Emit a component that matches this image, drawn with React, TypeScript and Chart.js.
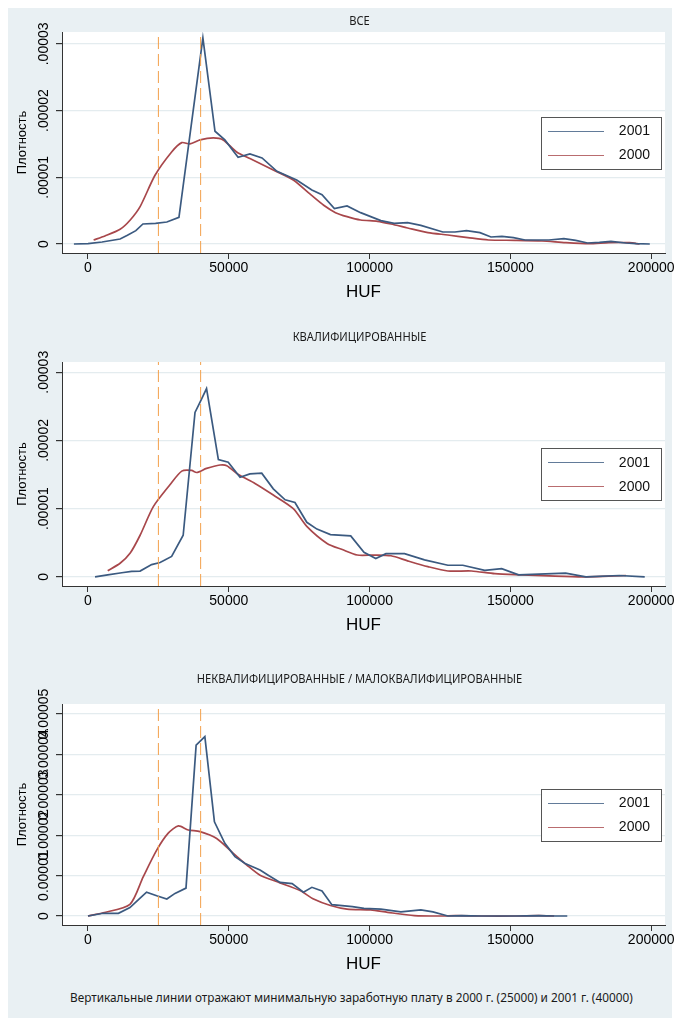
import React, { useEffect, useRef } from "react";
import { Chart, registerables } from "chart.js";

Chart.register(...registerables);

// ---------------- data ----------------
const MIN_WAGES = [25000, 40000];
const X_TICKS = [0, 50000, 100000, 150000, 200000];
const X_LABELS = ["0", "50000", "100000", "150000", "200000"];
const X_TITLE = "HUF";
const Y_TITLE = "Плотность";
const SERIES_LABELS = ["2001", "2000"];
const PANEL_TITLES = [
  "ВСЕ",
  "КВАЛИФИЦИРОВАННЫЕ",
  "НЕКВАЛИФИЦИРОВАННЫЕ / МАЛОКВАЛИФИЦИРОВАННЫЕ",
];
const CAPTION =
  "Вертикальные линии отражают минимальную заработную плату в 2000 г. (25000) и 2001 г. (40000)";

const DENSITY_UNIT = 0.00001; // densities below are in units of 1e-5
const Y_TICKS_SHORT = [0, 0.00001, 0.00002, 0.00003];
const Y_LABELS_SHORT = ["0", ".00001", ".00002", ".00003"];
const Y_TICKS_LONG = [0, 0.00001, 0.00002, 0.00003, 0.00004, 0.00005];
const Y_LABELS_LONG = ["0", "0.00001", "0.00002", "0.00003", "0.00004", "0.00005"];

// Panel 1: all workers
const ALL_HUF_2001 = [-5000, 0, 5000, 11400, 14000, 17000, 19500, 24000, 28000, 32300, 40800, 45100, 48600, 53300, 57500, 61800, 67100, 74100, 79500, 83100, 87500, 92000, 96800, 104000, 108700, 113500, 118200, 126000, 130300, 134400, 139200, 143100, 147000, 151100, 155200, 163700, 169000, 173200, 177400, 181600, 185700, 191000, 194600, 199500];
const ALL_DENS_2001 = [0, 0.005, 0.03, 0.075, 0.13, 0.2, 0.3, 0.31, 0.33, 0.4, 3.09, 1.69, 1.56, 1.3, 1.35, 1.29, 1.09, 0.96, 0.81, 0.74, 0.53, 0.57, 0.47, 0.35, 0.31, 0.32, 0.28, 0.18, 0.18, 0.2, 0.17, 0.105, 0.115, 0.096, 0.06, 0.06, 0.08, 0.055, 0.015, 0.025, 0.04, 0.015, 0.005, 0];
const ALL_HUF_2000 = [2000, 6000, 11400, 15000, 18500, 23800, 29700, 33300, 36200, 39800, 44500, 48000, 52800, 57500, 65800, 72900, 78800, 83700, 87900, 92000, 96800, 102800, 107600, 113500, 120700, 127800, 134900, 142200, 151700, 161200, 169600, 177900, 185000, 192300, 195900];
const ALL_DENS_2000 = [0.06, 0.12, 0.22, 0.36, 0.56, 1.03, 1.38, 1.52, 1.5, 1.56, 1.59, 1.56, 1.38, 1.28, 1.11, 0.96, 0.75, 0.58, 0.47, 0.41, 0.36, 0.34, 0.3, 0.24, 0.17, 0.135, 0.096, 0.06, 0.055, 0.045, 0.02, 0.005, 0.02, 0.02, 0];

// Panel 2: skilled
const SKL_HUF_2001 = [2500, 7000, 12000, 15500, 18500, 22600, 25600, 29700, 33800, 38000, 39800, 42100, 46300, 49800, 54000, 57500, 61700, 65800, 70000, 73500, 77700, 81300, 86100, 93300, 98000, 102200, 105800, 112400, 119500, 127800, 133100, 140900, 146900, 152900, 162500, 169600, 176800, 188700, 197700];
const SKL_DENS_2001 = [0, 0.03, 0.06, 0.08, 0.085, 0.18, 0.21, 0.3, 0.61, 2.41, 2.56, 2.76, 1.72, 1.68, 1.46, 1.51, 1.52, 1.29, 1.13, 1.09, 0.8, 0.7, 0.62, 0.6, 0.36, 0.27, 0.34, 0.34, 0.25, 0.17, 0.17, 0.095, 0.12, 0.03, 0.045, 0.055, 0, 0.02, 0];
const SKL_HUF_2000 = [7000, 11400, 15000, 18500, 23200, 29100, 33300, 36800, 38600, 42100, 46900, 49300, 53400, 59300, 65800, 72900, 77700, 84900, 90300, 95600, 101600, 107600, 113500, 120700, 127800, 136200, 144500, 154100, 163700, 175600, 182800, 191000];
const SKL_DENS_2000 = [0.09, 0.2, 0.35, 0.61, 1.03, 1.35, 1.55, 1.56, 1.53, 1.59, 1.64, 1.63, 1.5, 1.37, 1.2, 1.0, 0.74, 0.49, 0.4, 0.32, 0.32, 0.31, 0.235, 0.15, 0.086, 0.086, 0.046, 0.03, 0.015, 0, 0.006, 0.02];

// Panel 3: unskilled / low-skilled
const UNS_HUF_2001 = [0, 5400, 10800, 14900, 18500, 20800, 24400, 28000, 30900, 34800, 38400, 41500, 44900, 48600, 52200, 55800, 61100, 64000, 68200, 72500, 76500, 79500, 83100, 86600, 93900, 98000, 104000, 111100, 118200, 122500, 127800, 132600, 139800, 151700, 160100, 166000, 170200];
const UNS_DENS_2001 = [0, 0.067, 0.067, 0.21, 0.44, 0.59, 0.5, 0.42, 0.56, 0.69, 4.23, 4.44, 2.33, 1.8, 1.47, 1.3, 1.14, 1.01, 0.83, 0.8, 0.59, 0.71, 0.62, 0.28, 0.23, 0.19, 0.17, 0.1, 0.15, 0.1, 0, 0.01, 0, 0, 0.01, 0, 0];
const UNS_HUF_2000 = [0, 5400, 14900, 19600, 24400, 28500, 32100, 35600, 39800, 45700, 51600, 56400, 61100, 68200, 75300, 80100, 86100, 92000, 100400, 106400, 115900, 125500, 130300, 139800, 151700, 160100, 165500];
const UNS_DENS_2000 = [0, 0.08, 0.29, 0.97, 1.63, 2.05, 2.23, 2.13, 2.09, 1.92, 1.55, 1.26, 1.01, 0.82, 0.63, 0.42, 0.26, 0.17, 0.15, 0.09, 0.01, 0, 0.01, 0, 0, 0.01, 0];

// ---------------- styling / layout ----------------
const BG = "#e9f0f3";
const BLUE = "#3b5a80";
const RED = "#a8474b";
const ORANGE = "#f3a04c";
const GRID = "#e4ecef";
const AXIS = "#333333";
const X_MIN = -9230;
const X_MAX = 204900;
const CANVAS_W = 680;

type Panel = {
  title: string;
  h1: number[]; d1: number[]; h0: number[]; d0: number[];
  yTicks: number[]; yLabels: string[];
  yMin: number; yMax: number;
  top: number; height: number; padTop: number; padBottom: number; titleGap: number;
};

const PANELS: Panel[] = [
  { title: PANEL_TITLES[0], h1: ALL_HUF_2001, d1: ALL_DENS_2001, h0: ALL_HUF_2000, d0: ALL_DENS_2000,
    yTicks: Y_TICKS_SHORT, yLabels: Y_LABELS_SHORT, yMin: -0.135e-5, yMax: 3.178e-5,
    top: 0, height: 310, padTop: 24, padBottom: 5, titleGap: 10 },
  { title: PANEL_TITLES[1], h1: SKL_HUF_2001, d1: SKL_DENS_2001, h0: SKL_HUF_2000, d0: SKL_DENS_2000,
    yTicks: Y_TICKS_SHORT, yLabels: Y_LABELS_SHORT, yMin: -0.134e-5, yMax: 3.15e-5,
    top: 310, height: 340, padTop: 44, padBottom: 12, titleGap: 24 },
  { title: PANEL_TITLES[2], h1: UNS_HUF_2001, d1: UNS_DENS_2001, h0: UNS_HUF_2000, d0: UNS_DENS_2000,
    yTicks: Y_TICKS_LONG, yLabels: Y_LABELS_LONG, yMin: -0.223e-5, yMax: 5.248e-5,
    top: 650, height: 330, padTop: 46, padBottom: 3, titleGap: 24 },
];

const zip = (xs: number[], ys: number[]) => xs.map((x, i) => ({ x, y: ys[i] * DENSITY_UNIT }));

const overlayPlugin = {
  id: "overlay",
  beforeDraw(chart: any) {
    const { ctx, chartArea: a } = chart;
    ctx.save();
    ctx.fillStyle = "#ffffff";
    ctx.fillRect(a.left, a.top, a.right - a.left, a.bottom - a.top);
    ctx.restore();
  },
  afterDraw(chart: any, _args: any, opts: any) {
    const { ctx, chartArea: a, scales } = chart;
    const ys = scales.y;
    ctx.save();
    // panel title (slightly condensed)
    ctx.fillStyle = "#1a1a1a";
    ctx.font = '12px "Noto Sans"';
    ctx.textAlign = "center";
    ctx.textBaseline = "middle";
    ctx.save();
    ctx.translate((a.left + a.right) / 2 - 4, a.top - opts.titleGap);
    ctx.scale(0.93, 1);
    ctx.fillText(opts.title, 0, 0);
    ctx.restore();
    // y tick labels (rotated)
    ctx.fillStyle = "#000";
    ctx.font = '14px "Liberation Sans"';
    opts.yTicks.forEach((v: number, i: number) => {
      const y = ys.getPixelForValue(v);
      ctx.save();
      ctx.translate(a.left - 18, y);
      ctx.rotate(-Math.PI / 2);
      ctx.fillText(opts.yLabels[i], 0, 0);
      ctx.restore();
    });
    // y axis title
    ctx.font = '13px "Liberation Sans"';
    ctx.save();
    ctx.translate(a.left - 40, (a.top + a.bottom) / 2);
    ctx.rotate(-Math.PI / 2);
    ctx.fillText(Y_TITLE, 0, 0);
    ctx.restore();
    // legend
    const cy = (a.top + a.bottom) / 2;
    const bw = 120, bh = 52;
    const bx = a.right - 4 - bw;
    const by = cy - bh / 2;
    ctx.fillStyle = "#fff";
    ctx.fillRect(bx, by, bw, bh);
    ctx.strokeStyle = "#555";
    ctx.lineWidth = 1;
    ctx.strokeRect(Math.round(bx) + 0.5, Math.round(by) + 0.5, bw, bh);
    const rows = [
      { label: SERIES_LABELS[0], color: BLUE, y: cy - 12 },
      { label: SERIES_LABELS[1], color: RED, y: cy + 12 },
    ];
    ctx.font = '14px "Liberation Sans"';
    ctx.textAlign = "right";
    rows.forEach((r) => {
      ctx.strokeStyle = r.color;
      ctx.globalAlpha = 0.8;
      ctx.beginPath();
      ctx.moveTo(bx + 7, Math.round(r.y) + 0.5);
      ctx.lineTo(bx + 63, Math.round(r.y) + 0.5);
      ctx.stroke();
      ctx.globalAlpha = 1;
      ctx.fillStyle = "#111";
      ctx.fillText(r.label, bx + bw - 11, r.y + 1);
    });
    ctx.restore();
  },
};

function PanelChart({ p }: { p: Panel }) {
  const ref = useRef<HTMLCanvasElement | null>(null);
  useEffect(() => {
    if (!ref.current) return;
    const vline = (x: number) => ({
      data: [{ x, y: p.yMin }, { x, y: p.yMax }],
      showLine: true,
      borderColor: ORANGE,
      borderWidth: 1,
      borderDash: [12, 5],
      pointRadius: 0,
      pointHoverRadius: 0,
    });
    const chart = new Chart(ref.current, {
      type: "scatter",
      data: {
        datasets: [
          ...MIN_WAGES.map(vline),
          {
            label: SERIES_LABELS[0],
            data: zip(p.h1, p.d1),
            showLine: true,
            borderColor: BLUE,
            borderWidth: 1.7,
            pointRadius: 0,
            pointHoverRadius: 0,
            tension: 0,
          },
          {
            label: SERIES_LABELS[1],
            data: zip(p.h0, p.d0),
            showLine: true,
            borderColor: RED,
            borderWidth: 1.7,
            pointRadius: 0,
            pointHoverRadius: 0,
            tension: 0.25,
          },
        ] as any,
      },
      options: {
        animation: false,
        responsive: false,
        maintainAspectRatio: false,
        events: [],
        layout: { padding: { left: 0, right: CANVAS_W - 657, top: p.padTop, bottom: p.padBottom } },
        plugins: {
          legend: { display: false },
          tooltip: { enabled: false },
          overlay: { title: p.title, yTicks: p.yTicks, yLabels: p.yLabels, titleGap: p.titleGap },
        } as any,
        scales: {
          x: {
            type: "linear",
            min: X_MIN,
            max: X_MAX,
            afterBuildTicks: (s: any) => {
              s.ticks = X_TICKS.map((v) => ({ value: v }));
            },
            afterFit: (s: any) => {
              s.height = 60;
              s.paddingLeft = 0;
              s.paddingRight = 0;
            },
            ticks: {
              autoSkip: false,
              maxRotation: 0,
              minRotation: 0,
              padding: 1,
              color: "#000",
              font: { family: "Liberation Sans", size: 14 },
              callback: (v: any) => X_LABELS[X_TICKS.indexOf(Number(v))] ?? "",
            },
            grid: { drawOnChartArea: false, tickLength: 6, tickColor: AXIS },
            border: { color: AXIS, width: 1 },
            title: {
              display: true,
              text: X_TITLE,
              color: "#000",
              font: { family: "Liberation Sans", size: 17 },
              padding: { top: 0, bottom: 10 },
            },
          },
          y: {
            type: "linear",
            min: p.yMin,
            max: p.yMax,
            afterBuildTicks: (s: any) => {
              s.ticks = p.yTicks.map((v) => ({ value: v }));
            },
            afterFit: (s: any) => {
              s.width = 54;
              s.paddingTop = 0;
              s.paddingBottom = 0;
            },
            ticks: { display: false },
            grid: { color: GRID, lineWidth: 1.2, tickLength: 6, tickColor: AXIS },
            border: { color: AXIS, width: 1 },
          },
        },
      } as any,
      plugins: [overlayPlugin as any],
    });
    return () => chart.destroy();
  }, [p]);
  return (
    <canvas
      ref={ref}
      width={CANVAS_W}
      height={p.height}
      style={{ position: "absolute", left: 0, top: p.top, width: CANVAS_W, height: p.height }}
    />
  );
}

export default function App() {
  return (
    <div style={{ position: "relative", width: 664, height: 1010, background: BG }}>
      {PANELS.map((p, i) => (
        <PanelChart key={i} p={p} />
      ))}
      <div
        style={{
          position: "absolute",
          left: 62,
          top: 982,
          whiteSpace: "nowrap",
          fontFamily: '"Noto Sans"',
          fontSize: 11.8,
          lineHeight: "14px",
          color: "#1a1a1a",
        }}
      >
        {CAPTION}
      </div>
    </div>
  );
}
